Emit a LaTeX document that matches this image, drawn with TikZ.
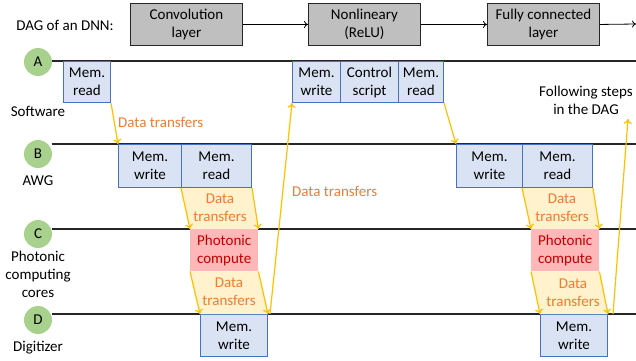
\documentclass[tikz,border=0pt]{standalone}
\usepackage{fontspec}
\setmainfont{Carlito}
\usetikzlibrary{arrows.meta}
\definecolor{dagGray}{HTML}{BFBFBF}
\definecolor{memFill}{HTML}{DAE3F3}
\definecolor{memBorder}{HTML}{4472C4}
\definecolor{pcFill}{HTML}{FFB7B7}
\definecolor{pcText}{HTML}{C00000}
\definecolor{dtFill}{HTML}{FFF2CC}
\definecolor{arrowYellow}{HTML}{FFC000}
\definecolor{dtOrange}{HTML}{ED7D31}
\definecolor{circGreen}{HTML}{A9D18E}
\begin{document}
\begin{tikzpicture}[x=1pt,y=-1pt,
  every node/.style={font=\fontsize{15}{18}\selectfont},
  dagbox/.style={draw=black!85, fill=dagGray, line width=0.9pt, minimum width=112, minimum height=42, align=center, inner sep=0, anchor=north west},
  membox/.style={draw=memBorder, fill=memFill, line width=1pt, align=center, inner sep=0, anchor=north west},
  pcbox/.style={fill=pcFill, text=pcText, align=center, inner sep=0, anchor=north west, minimum width=68, minimum height=42},
  tline/.style={line width=1.2pt, draw=black!85},
  yarrow/.style={draw=arrowYellow, line width=1.2pt, -{To[length=5pt,width=8pt]}},
  dagarrow/.style={draw=black, line width=0.8pt, -{To[length=4pt,width=7pt]}},
  dtlabel/.style={text=dtOrange, align=center, inner sep=0},
  circ/.style={circle, fill=circGreen, minimum size=28, inner sep=0},
  rowlabel/.style={align=center, inner sep=0}
]
\useasboundingbox (0,0) rectangle (636,360);

% DAG row
\node[inner sep=0] (daglbl) at (65,25) {DAG of an DNN:};
\node[dagbox] (conv) at (130,3) {Convolution\\layer};
\node[dagbox] (nonl) at (308,3) {Nonlineary\\(ReLU)};
\node[dagbox] (fc) at (487,3) {Fully connected\\layer};
\coordinate (dagEnd) at (636,24);
\draw[dagarrow] (conv.east) -- (nonl.west);
\draw[dagarrow] (nonl.east) -- (fc.west);
\draw[dagarrow] (fc.east) -- (dagEnd);

% timeline lines
\coordinate (lAs) at (52,61);  \coordinate (lAe) at (636,61);
\coordinate (lBs) at (52,144); \coordinate (lBe) at (636,144);
\coordinate (lCs) at (52,229); \coordinate (lCe) at (636,229);
\coordinate (lDs) at (52,314); \coordinate (lDe) at (636,314);
\draw[tline] (lAs) -- (lAe);
\draw[tline] (lBs) -- (lBe);
\draw[tline] (lCs) -- (lCe);
\draw[tline] (lDs) -- (lDe);

% circles and row labels
\node[circ] (cA) at (38,62) {A};
\node[circ] (cB) at (38,154) {B};
\node[circ] (cC) at (38,234) {C};
\node[circ] (cD) at (38,320) {D};
\node[rowlabel] (rA) at (38,111) {Software};
\node[rowlabel] (rB) at (38,181) {AWG};
\node[rowlabel] (rC) at (38,274) {Photonic\\computing\\cores};
\node[rowlabel] (rD) at (38,348) {Digitizer};

% Row A boxes
\node[membox, minimum width=47, minimum height=41] (ar1) at (63,61) {Mem.\\read};
\node[membox, minimum width=48, minimum height=41] (aw2) at (292,61) {Mem.\\write};
\node[membox, minimum width=58, minimum height=41] (cs) at (340,61) {Control\\script};
\node[membox, minimum width=45, minimum height=41] (ar2) at (398,61) {Mem.\\read};

% Row B boxes
\node[membox, minimum width=63, minimum height=43] (bw1) at (118,144) {Mem.\\write};
\node[membox, minimum width=70, minimum height=43] (br1) at (181,144) {Mem.\\read};
\node[membox, minimum width=66, minimum height=43] (bw2) at (456,144) {Mem.\\write};
\node[membox, minimum width=70, minimum height=43] (br2) at (522,144) {Mem.\\read};

% Row C boxes
\node[pcbox] (pc1) at (190,229) {Photonic\\compute};
\node[pcbox] (pc2) at (531,229) {Photonic\\compute};

% Row D boxes
\node[membox, minimum width=67, minimum height=42] (dw1) at (200,314) {Mem.\\write};
\node[membox, minimum width=67, minimum height=42] (dw2) at (540,314) {Mem.\\write};

% data transfer regions
\fill[dtFill] (br1.south west) -- (br1.south east) -- (pc1.north east) -- (pc1.north west) -- cycle;
\fill[dtFill] (pc1.south west) -- (pc1.south east) -- (dw1.north east) -- (dw1.north west) -- cycle;
\fill[dtFill] (br2.south west) -- (br2.south east) -- (pc2.north east) -- (pc2.north west) -- cycle;
\fill[dtFill] (pc2.south west) -- (pc2.south east) -- (dw2.north east) -- (dw2.north west) -- cycle;
\node[dtlabel] (dt1) at (220,208) {Data\\transfers};
\node[dtlabel] (dt2) at (229,292) {Data\\transfers};
\node[dtlabel] (dt3) at (562,208) {Data\\transfers};
\node[dtlabel] (dt4) at (573,293) {Data\\transfers};
\draw[yarrow] (br1.south west) -- (pc1.north west);
\draw[yarrow] (br1.south east) -- (pc1.north east);
\draw[yarrow] (pc1.south west) -- (dw1.north west);
\draw[yarrow] (pc1.south east) -- (dw1.north east);
\draw[yarrow] (br2.south west) -- (pc2.north west);
\draw[yarrow] (br2.south east) -- (pc2.north east);
\draw[yarrow] (pc2.south west) -- (dw2.north west);
\draw[yarrow] (pc2.south east) -- (dw2.north east);

% other transfers
\draw[yarrow] (ar1.south east) -- (bw1.north west);
\node[dtlabel, anchor=west] (dtA) at (118,122) {Data transfers};
\coordinate (up1) at (270,314);
\draw[yarrow] (up1) -- (aw2.south west);
\node[dtlabel, anchor=west] (dtB) at (292,191) {Data transfers};
\draw[yarrow] (ar2.south east) -- (bw2.north west);
\node[rowlabel] (fs) at (586,100) {Following steps\\in the DAG};
\coordinate (up2) at (613,314);
\coordinate (fsTip) at (628,119);
\draw[yarrow] (up2) -- (fsTip);
\end{tikzpicture}
\end{document}
